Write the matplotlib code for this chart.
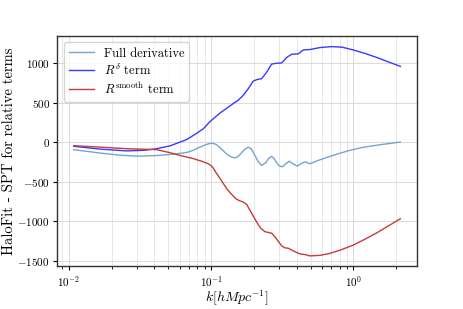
import matplotlib
matplotlib.use("Agg")
import matplotlib.pyplot as plt

plt.rcParams['font.family'] = 'serif'
plt.rcParams['font.serif'] = ['cmr10', 'DejaVu Serif']
plt.rcParams['mathtext.fontset'] = 'cm'
plt.rcParams['axes.formatter.use_mathtext'] = True
plt.rcParams['axes.unicode_minus'] = True

# ---- data ----
k_full = [0.01084, 0.01652, 0.02284, 0.03056, 0.04025, 0.05387, 0.06758, 0.07482,
          0.08340, 0.09150, 0.0965, 0.1008, 0.1050, 0.1099, 0.1200, 0.1300,
          0.1400, 0.1471, 0.1545, 0.1621, 0.1730, 0.1824, 0.1910, 0.2000,
          0.2134, 0.2265, 0.2428, 0.2560, 0.2664, 0.2760, 0.2855, 0.3000,
          0.3131, 0.3220, 0.3304, 0.3541, 0.3759, 0.4030, 0.4279, 0.4566,
          0.4952, 0.5518, 0.6416, 0.7631, 0.9465, 1.174, 1.538, 2.137]
full = [-92, -135, -162, -175, -168, -150, -128, -100,
        -60, -30, -17, -12, -16, -32, -95, -155,
        -188, -196, -180, -140, -85, -62, -80, -140,
        -240, -292, -255, -195, -178, -200, -245, -295,
        -309, -300, -280, -238, -270, -300, -270, -246,
        -271, -235, -195, -150, -100, -62, -30, 4]

k_delta = [0.01084, 0.01652, 0.02545, 0.03422, 0.04136, 0.05131, 0.06726, 0.07693,
           0.08799, 0.09808, 0.1153, 0.1430, 0.1543, 0.1681, 0.1824, 0.1977,
           0.2100, 0.2265, 0.2456, 0.2664, 0.2855, 0.3131, 0.3396, 0.3683,
           0.4097, 0.4443, 0.4952, 0.5823, 0.7036, 0.8316, 0.9984, 1.207,
           1.458, 1.751, 2.137]
delta = [-50, -85, -108, -100, -80, -45, 35, 100,
         170, 262, 370, 491, 530, 595, 679, 775,
         795, 806, 887, 991, 1000, 1006, 1075, 1116,
         1120, 1170, 1175, 1200, 1212, 1205, 1170, 1125,
         1075, 1020, 962]

k_smooth = [0.01084, 0.01652, 0.02545, 0.04136, 0.05131, 0.06034, 0.07482, 0.08799,
            0.0966, 0.1008, 0.1040, 0.1081, 0.1185, 0.1291, 0.1430, 0.1510,
            0.1594, 0.1680, 0.1777, 0.1905, 0.2089, 0.2239, 0.2389, 0.2520,
            0.2664, 0.2810, 0.3131, 0.3300, 0.3484, 0.3884, 0.4212, 0.4566,
            0.4952, 0.5823, 0.6845, 0.8181, 0.9984, 1.207, 1.458, 1.751, 2.137]
smooth = [-42, -60, -80, -92, -130, -165, -205, -245,
          -275, -300, -330, -380, -487, -590, -680, -720,
          -740, -755, -785, -880, -1009, -1090, -1130, -1140,
          -1150, -1196, -1310, -1335, -1340, -1384, -1412, -1420,
          -1437, -1430, -1405, -1360, -1300, -1225, -1146, -1060, -967]

labels = ['Full derivative', r'$R^{\delta}$ term', r'$R^{\rm smooth}$ term']
colors = ['#73a5d0', '#3a3aff', '#c43c3c']

fig = plt.figure(figsize=(4.63, 3.09), dpi=100)
ax = fig.add_axes([0.124, 0.138, 0.776, 0.745])

ax.plot(k_full, full, color=colors[0], lw=1.0, label=labels[0])
ax.plot(k_delta, delta, color=colors[1], lw=1.0, label=labels[1])
ax.plot(k_smooth, smooth, color=colors[2], lw=1.0, label=labels[2])

ax.set_xscale('log')
ax.set_yticks([-1500, -1000, -500, 0, 500, 1000])
ax.grid(True, which='major', color='#d9d9d9', lw=0.7)
ax.grid(True, which='minor', axis='x', color='#e3e3e3', lw=0.6)
ax.set_axisbelow(True)
for s in ax.spines.values():
    s.set_color('#333333')
    s.set_linewidth(1.0)
ax.tick_params(labelsize=8, direction='out', length=3, width=0.8, pad=2.5)
ax.tick_params(which='minor', length=2, width=0.6)

ax.set_xlabel(r'$k [h Mpc^{-1}]$', fontsize=10, labelpad=0)
ax.set_ylabel('HaloFit - SPT for relative terms', fontsize=10.5, labelpad=1)

leg = ax.legend(loc='upper left', fontsize=9, frameon=True, fancybox=True,
                framealpha=0.8, edgecolor='#cccccc', labelspacing=0.25,
                borderaxespad=0.5)

fig.savefig('out.png', dpi=100)
